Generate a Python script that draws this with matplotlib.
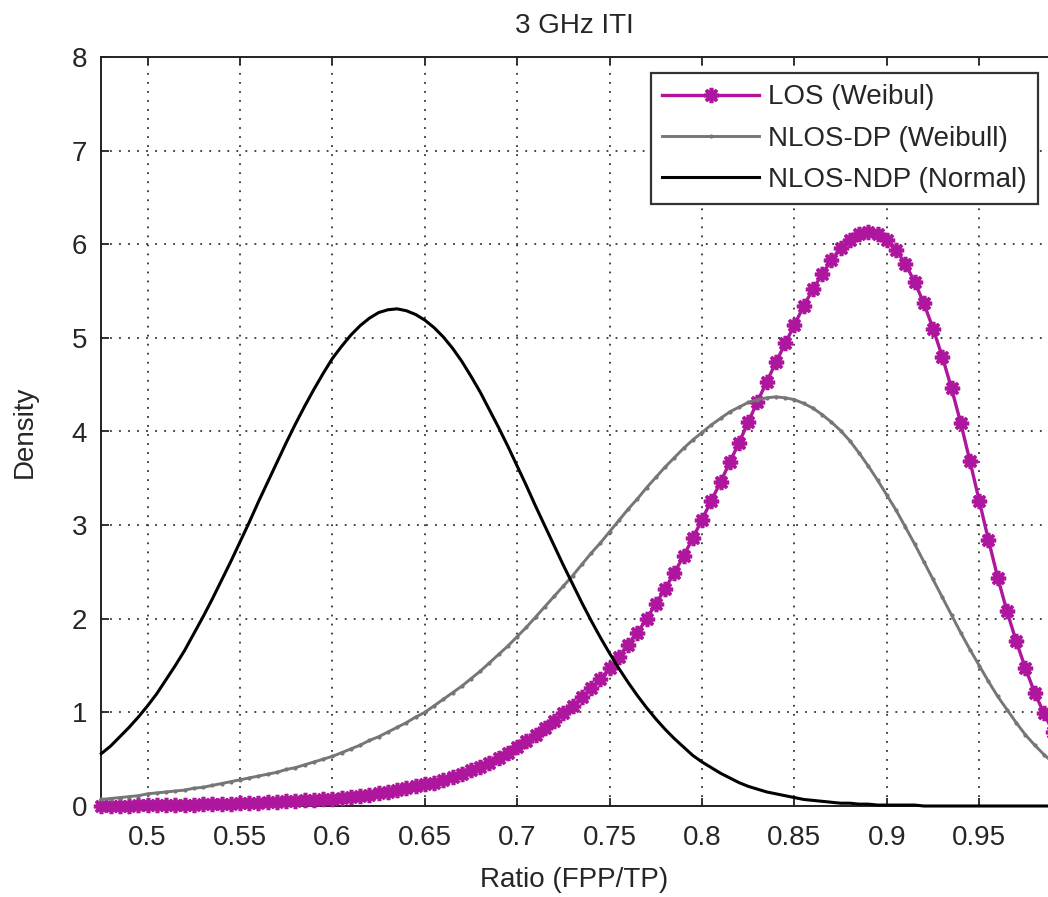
import numpy as np
import matplotlib
matplotlib.use("Agg")
import matplotlib.pyplot as plt

# ---- data ----
ratio = [round(0.475 + 0.005 * i, 3) for i in range(104)]

los_weibull = [
    0.00, 0.00, 0.00, 0.00, 0.01, 0.01, 0.01, 0.01, 0.01, 0.01, 0.01, 0.02, 0.02,
    0.02, 0.02, 0.03, 0.03, 0.03, 0.04, 0.04, 0.05, 0.05, 0.06, 0.06, 0.07, 0.08,
    0.09, 0.10, 0.11, 0.12, 0.14, 0.15, 0.17, 0.19, 0.21, 0.23, 0.25, 0.28, 0.31,
    0.34, 0.38, 0.42, 0.46, 0.51, 0.57, 0.63, 0.69, 0.76, 0.83, 0.91, 0.99, 1.07,
    1.16, 1.26, 1.36, 1.47, 1.59, 1.72, 1.85, 2.00, 2.16, 2.32, 2.49, 2.67, 2.86,
    3.06, 3.26, 3.46, 3.67, 3.88, 4.10, 4.32, 4.53, 4.74, 4.94, 5.14, 5.34, 5.52,
    5.68, 5.83, 5.96, 6.05, 6.11, 6.13, 6.11, 6.05, 5.94, 5.79, 5.60, 5.37, 5.10,
    4.80, 4.46, 4.09, 3.68, 3.26, 2.84, 2.44, 2.08, 1.76, 1.47, 1.21, 0.99, 0.79,
]

nlos_dp_weibull = [
    0.07, 0.08, 0.09, 0.10, 0.11, 0.13, 0.14, 0.15, 0.16, 0.17, 0.19, 0.20, 0.22,
    0.24, 0.26, 0.28, 0.30, 0.32, 0.34, 0.36, 0.39, 0.41, 0.44, 0.47, 0.50, 0.53,
    0.57, 0.61, 0.65, 0.70, 0.74, 0.79, 0.84, 0.89, 0.95, 1.00, 1.07, 1.14, 1.21,
    1.28, 1.36, 1.44, 1.53, 1.62, 1.71, 1.81, 1.91, 2.02, 2.13, 2.24, 2.35, 2.46,
    2.58, 2.70, 2.81, 2.93, 3.05, 3.17, 3.28, 3.40, 3.51, 3.62, 3.72, 3.82, 3.91,
    3.99, 4.07, 4.14, 4.21, 4.26, 4.31, 4.34, 4.36, 4.37, 4.36, 4.34, 4.30, 4.25,
    4.18, 4.10, 4.01, 3.90, 3.77, 3.63, 3.48, 3.32, 3.16, 2.98, 2.80, 2.61, 2.42,
    2.23, 2.04, 1.85, 1.67, 1.50, 1.33, 1.17, 1.03, 0.89, 0.76, 0.65, 0.55, 0.46,
]

nlos_ndp_normal = [
    0.56, 0.64, 0.74, 0.84, 0.95, 1.07, 1.20, 1.35, 1.50, 1.66, 1.84, 2.02, 2.21,
    2.41, 2.61, 2.82, 3.03, 3.25, 3.46, 3.67, 3.88, 4.08, 4.27, 4.45, 4.62, 4.78,
    4.91, 5.03, 5.13, 5.21, 5.27, 5.30, 5.31, 5.29, 5.25, 5.19, 5.11, 5.01, 4.89,
    4.75, 4.59, 4.42, 4.23, 4.04, 3.84, 3.63, 3.42, 3.20, 2.99, 2.78, 2.57, 2.37,
    2.17, 1.98, 1.80, 1.63, 1.47, 1.32, 1.18, 1.05, 0.93, 0.82, 0.72, 0.63, 0.54,
    0.47, 0.41, 0.35, 0.30, 0.25, 0.21, 0.18, 0.15, 0.13, 0.11, 0.09, 0.07, 0.06,
    0.05, 0.04, 0.03, 0.03, 0.02, 0.02, 0.01, 0.01, 0.01, 0.01, 0.01, 0.00, 0.00,
    0.00, 0.00, 0.00, 0.00, 0.00, 0.00, 0.00, 0.00, 0.00, 0.00, 0.00, 0.00, 0.00,
]

series_labels = ["LOS (Weibul)", "NLOS-DP (Weibull)", "NLOS-NDP (Normal)"]
x_ticks = [0.5, 0.55, 0.6, 0.65, 0.7, 0.75, 0.8, 0.85, 0.9, 0.95]
x_tick_labels = ["0.5", "0.55", "0.6", "0.65", "0.7", "0.75", "0.8", "0.85", "0.9", "0.95"]
y_ticks = [0, 1, 2, 3, 4, 5, 6, 7, 8]
title_text = "3 GHz ITI"
x_label = "Ratio (FPP/TP)"
y_label = "Density"

# ---- styling ----
plt.rcParams['font.family'] = ['Liberation Sans', 'DejaVu Sans']
FS = 20
TXT = '#262626'

W, H = 1048, 897
fig = plt.figure(figsize=(W / 100, H / 100), dpi=100)
ax = fig.add_axes([101 / W, 1 - 806 / H, 947 / W, 749 / H])

ax.plot(ratio, los_weibull, color='#AE169E', lw=2.4, marker=(8, 2, 0),
        ms=11, mew=2.6, mec='#AE169E', label=series_labels[0], clip_on=False, zorder=3)
ax.plot(ratio, nlos_dp_weibull, color='#767676', lw=2.1, marker='.',
        ms=4, label=series_labels[1], clip_on=False, zorder=4)
ax.plot(ratio, nlos_ndp_normal, color='#000000', lw=2.2,
        label=series_labels[2], clip_on=False, zorder=5)

ax.set_xlim(0.4748, 0.9872)
ax.set_ylim(0, 8)
ax.set_xticks(x_ticks)
ax.set_xticklabels(x_tick_labels)
ax.set_yticks(y_ticks)

ax.grid(True, color='#333333', linestyle=(0, (1, 4)), lw=1.3)
for side in ['left', 'bottom', 'top']:
    ax.spines[side].set_color('#222222')
    ax.spines[side].set_linewidth(1.4)
ax.spines['right'].set_visible(False)

ax.tick_params(axis='x', direction='in', top=True, bottom=True, length=6,
               width=1.3, color='#222222', labelsize=FS, labelcolor=TXT, pad=14)
ax.tick_params(axis='y', direction='in', left=True, right=False, length=6,
               width=1.3, color='#222222', labelsize=FS, labelcolor=TXT, pad=10)

ax.text(0.5, (806 - 33) / 749, title_text, transform=ax.transAxes,
        ha='center', va='baseline', fontsize=FS, color=TXT)
ax.set_xlabel(x_label, fontsize=FS, color=TXT)
ax.xaxis.set_label_coords(0.5, (806 - 867) / 749)
ax.set_ylabel(y_label, fontsize=FS, color=TXT)
ax.yaxis.set_label_coords((38 - 101) / 947, 0.5)

leg = ax.legend(loc='upper right', bbox_to_anchor=(1038 / W, 1 - 73 / H),
                bbox_transform=fig.transFigure, borderaxespad=0,
                fontsize=FS, frameon=True, fancybox=False, framealpha=1,
                edgecolor='#333333', handlelength=3.49, handletextpad=0.32,
                labelspacing=0.55, borderpad=0.41, numpoints=1)
leg.get_frame().set_linewidth(1.6)
for t in leg.get_texts():
    t.set_color(TXT)

fig.savefig("out.png", dpi=100)
